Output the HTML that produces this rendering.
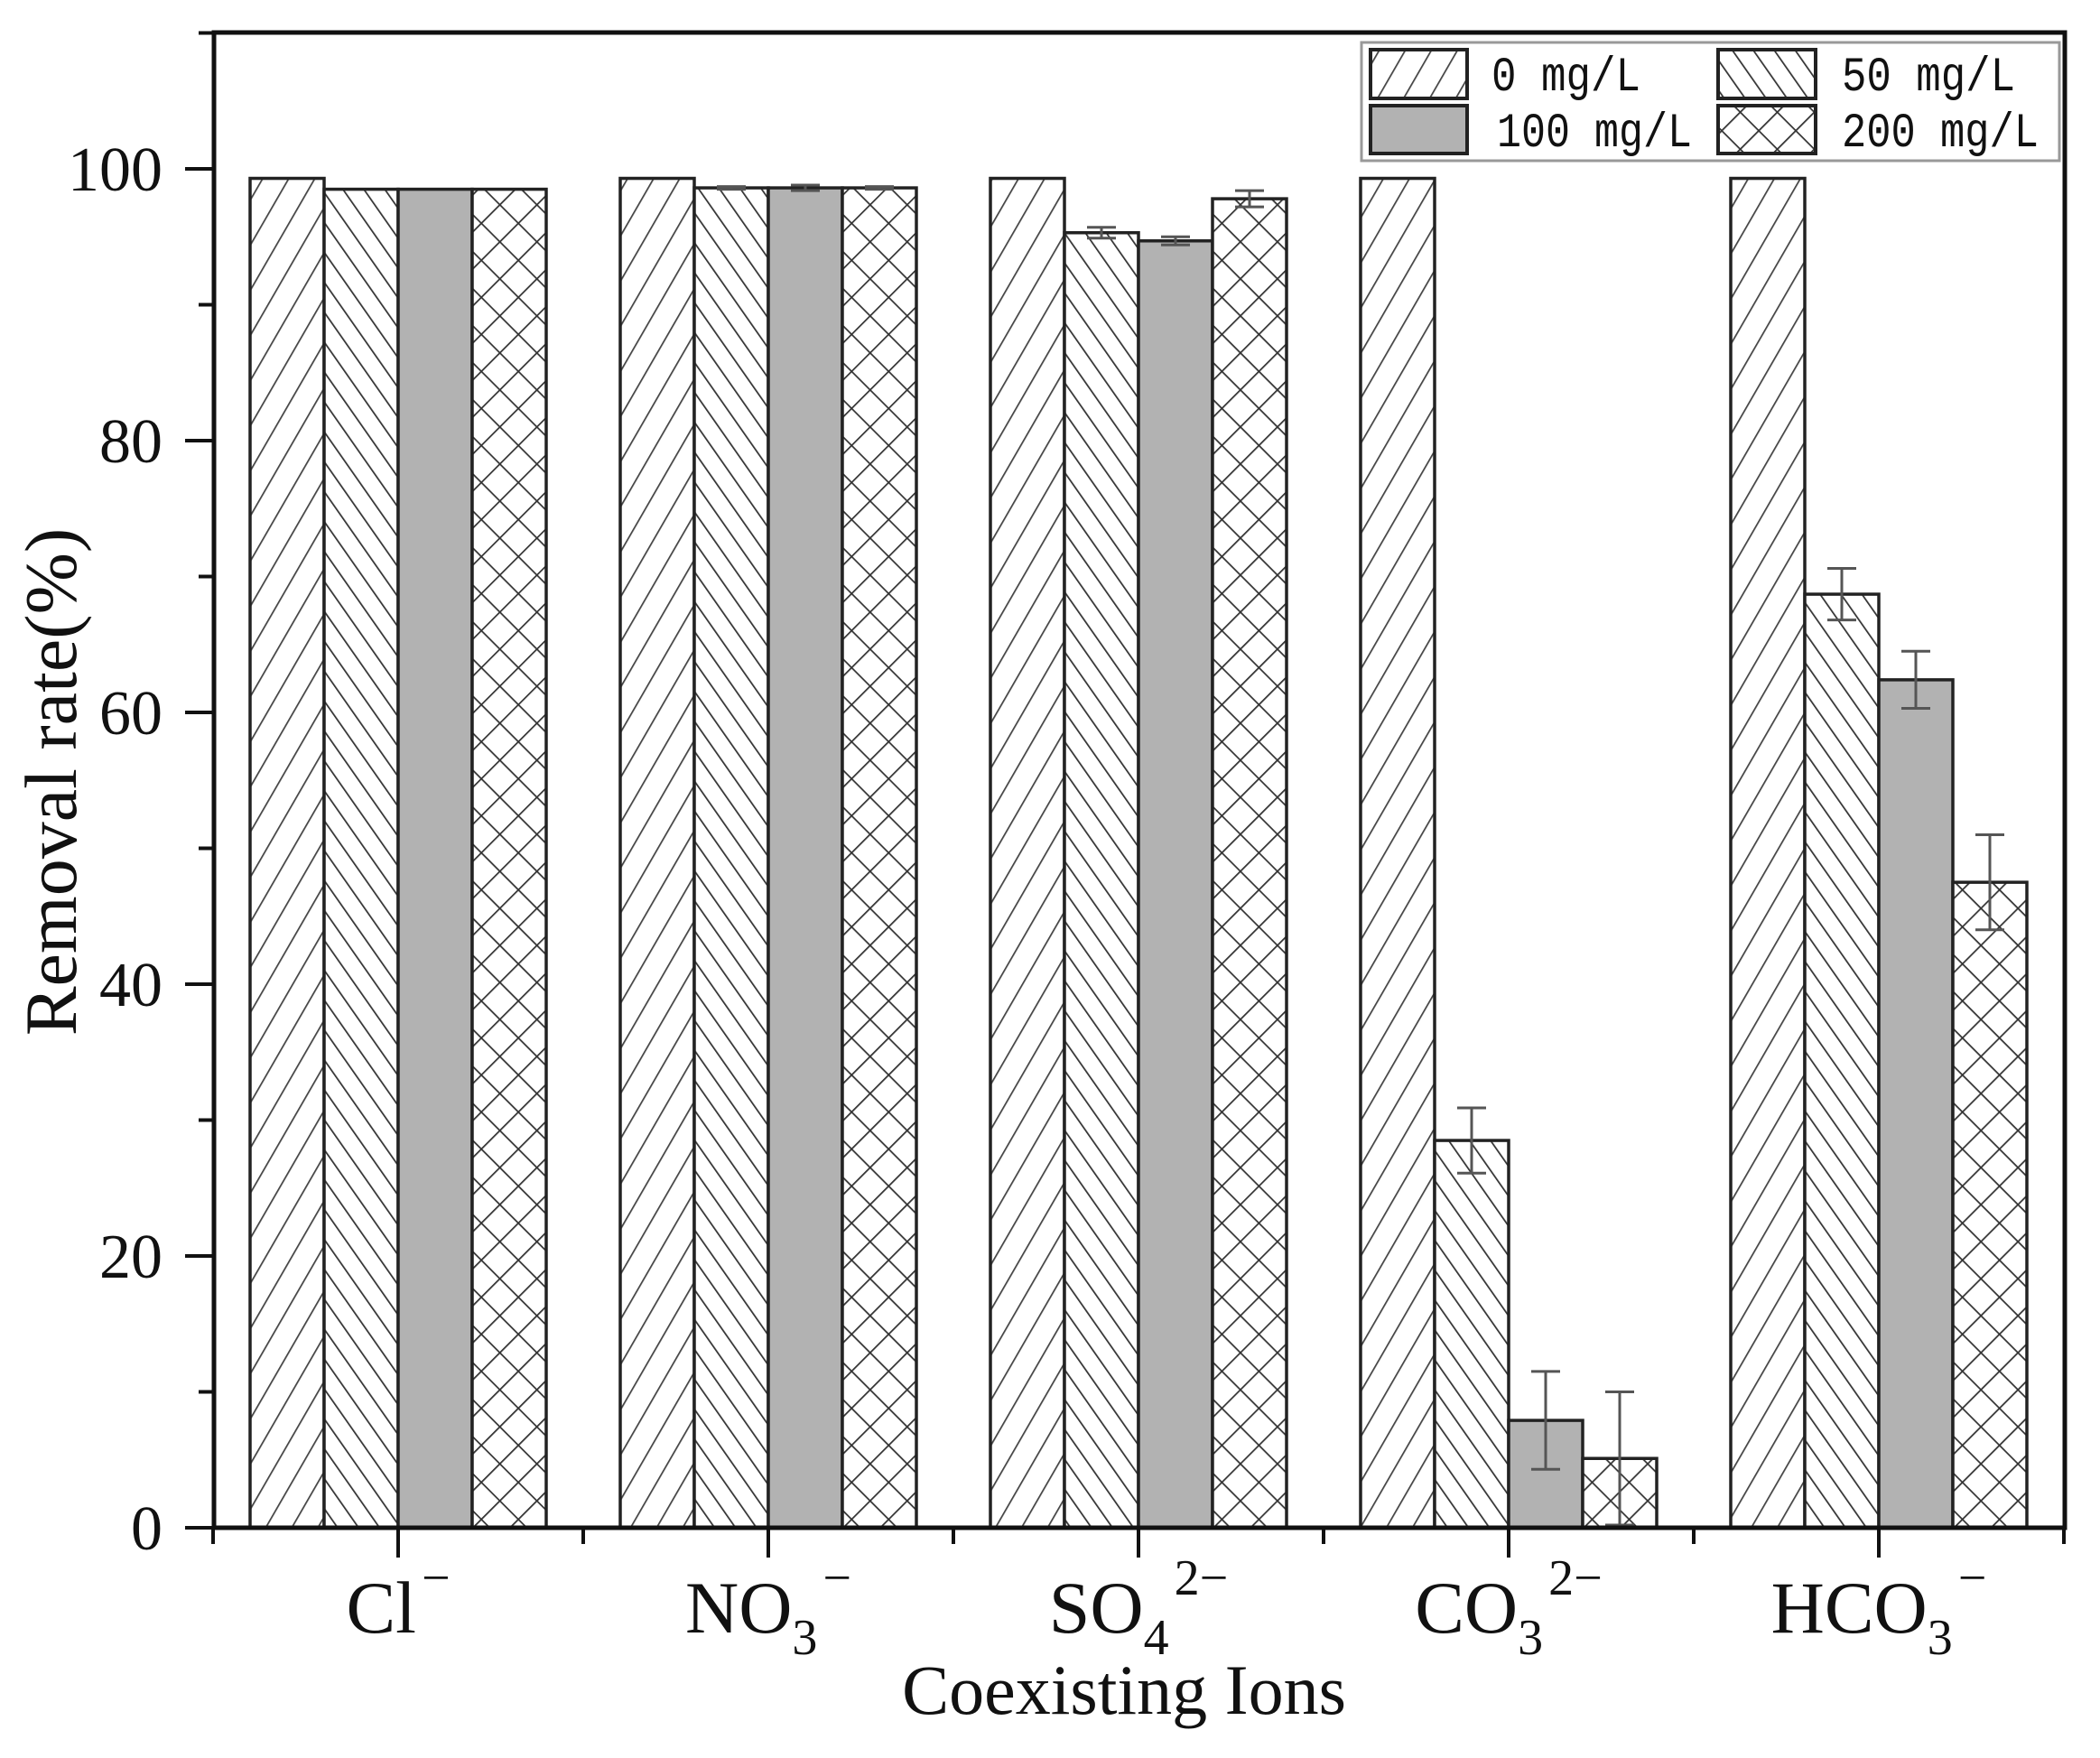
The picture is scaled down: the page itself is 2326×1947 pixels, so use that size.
<!DOCTYPE html>
<html><head><meta charset="utf-8"><style>
html,body{margin:0;padding:0;background:#fff;}
svg{display:block;}
text{font-family:"Liberation Serif",serif;fill:#111;}
</style></head><body>
<svg width="2326" height="1947" viewBox="0 0 2326 1947" xmlns="http://www.w3.org/2000/svg">
<defs>
<pattern id="p0" patternUnits="userSpaceOnUse" width="25" height="25" patternTransform="rotate(30)">
<rect width="25" height="25" fill="#fff"/><line x1="0" y1="0" x2="0" y2="25" stroke="#444" stroke-width="3.5"/></pattern>
<pattern id="p50" patternUnits="userSpaceOnUse" width="19" height="19" patternTransform="rotate(-35)">
<rect width="19" height="19" fill="#fff"/><line x1="0" y1="0" x2="0" y2="19" stroke="#333" stroke-width="3.5"/></pattern>
<pattern id="p200" patternUnits="userSpaceOnUse" width="29" height="29" patternTransform="rotate(45)">
<rect width="29" height="29" fill="#fff"/><line x1="0" y1="0" x2="0" y2="29" stroke="#333" stroke-width="3.5"/><line x1="0" y1="0" x2="29" y2="0" stroke="#333" stroke-width="3.5"/></pattern>
</defs>
<g id="bars" stroke="#222" stroke-width="3.5"></g>
<g id="err" stroke="#555" stroke-width="3"></g>
<rect x="237" y="36" width="2050" height="1656" fill="none" stroke="#111" stroke-width="5"/>
<g id="ticks" stroke="#111" stroke-width="4"></g>
<g id="labels"></g>
<text x="0" y="0" font-size="82" text-anchor="middle" transform="translate(84,866) rotate(-90)">Removal rate(%)</text>
<text x="1245" y="1898" font-size="78" text-anchor="middle">Coexisting Ions</text>
<rect x="1508" y="47" width="773" height="131" fill="#fff" stroke="#999" stroke-width="3"/>
<rect x="1518" y="55" width="107" height="54" fill="url(#p0)" stroke="#222" stroke-width="4"/>
<rect x="1518" y="117" width="107" height="53" fill="#b2b2b2" stroke="#222" stroke-width="4"/>
<rect x="1903" y="55" width="108" height="54" fill="url(#p50)" stroke="#222" stroke-width="4"/>
<rect x="1903" y="117" width="108" height="53" fill="url(#p200)" stroke="#222" stroke-width="4"/>
<g style="font-family:'Liberation Mono',monospace" font-size="54">
<text x="1652" y="100" textLength="165" lengthAdjust="spacingAndGlyphs" style="font-family:'Liberation Mono',monospace">0 mg/L</text>
<text x="1658" y="162" textLength="216" lengthAdjust="spacingAndGlyphs" style="font-family:'Liberation Mono',monospace">100 mg/L</text>
<text x="2040" y="100" textLength="192" lengthAdjust="spacingAndGlyphs" style="font-family:'Liberation Mono',monospace">50 mg/L</text>
<text x="2040" y="162" textLength="218" lengthAdjust="spacingAndGlyphs" style="font-family:'Liberation Mono',monospace">200 mg/L</text>
</g>
</svg>
<script>
(function(){
var ns="http://www.w3.org/2000/svg";
function el(p,t,a,txt){var e=document.createElementNS(ns,t);for(var k in a)e.setAttribute(k,a[k]);if(txt!==undefined)e.textContent=txt;p.appendChild(e);return e;}
var Y=function(v){return 1692-v*15.05;};
var centers=[441,851,1261,1671,2081];
var data=[[99.3,98.5,98.5,98.5],[99.3,98.6,98.6,98.6],[99.3,95.3,94.7,97.8],[99.3,28.5,7.9,5.1],[99.3,68.7,62.4,47.5]];
var errs=[[0,0,0,0],[0,0.1,0.2,0.1],[0,0.4,0.3,0.6],[0,2.4,3.6,4.9],[0,1.9,2.1,3.5]];
var fills=["url(#p0)","url(#p50)","#b2b2b2","url(#p200)"];
var bars=document.getElementById("bars"),err=document.getElementById("err");
for(var g=0;g<5;g++){for(var i=0;i<4;i++){
 var x=centers[g]-164+i*82,y=Y(data[g][i]);
 el(bars,"rect",{x:x,y:y,width:82,height:1692-y,fill:fills[i]});
 var e=errs[g][i];
 if(e>0){var cx=x+41,y1=Y(data[g][i]+e),y2=Y(data[g][i]-e);
  el(err,"line",{x1:cx,y1:y1,x2:cx,y2:y2});
  el(err,"line",{x1:cx-16,y1:y1,x2:cx+16,y2:y1});
  el(err,"line",{x1:cx-16,y1:y2,x2:cx+16,y2:y2});}
}}
var tk=document.getElementById("ticks"),lb=document.getElementById("labels");
for(var v=0;v<=110;v+=10){var y=Y(v);var major=(v%20==0);
 el(tk,"line",{x1:major?205:220,y1:y,x2:237,y2:y});
 if(major) el(lb,"text",{x:180,y:y+24,"font-size":70,"text-anchor":"end"},String(v));}
for(var g=0;g<5;g++){el(tk,"line",{x1:centers[g],y1:1692,x2:centers[g],y2:1725});}
for(var g=0;g<6;g++){var x=236+g*410;el(tk,"line",{x1:x,y1:1692,x2:x,y2:1710});}
var lab=[["Cl","","−"],["NO","3","−"],["SO","4","2−"],["CO","3","2−"],["HCO","3","−"]];
for(var g=0;g<5;g++){var t=el(lb,"text",{x:centers[g],y:1808,"font-size":82,"text-anchor":"middle"});
 el(t,"tspan",{},lab[g][0]);
 if(lab[g][1]){el(t,"tspan",{dy:24,"font-size":56},lab[g][1]);}
 el(t,"tspan",{dy:lab[g][1]?-66:-42,"font-size":56,dx:6},lab[g][2]);}
})();
</script>
</body></html>
